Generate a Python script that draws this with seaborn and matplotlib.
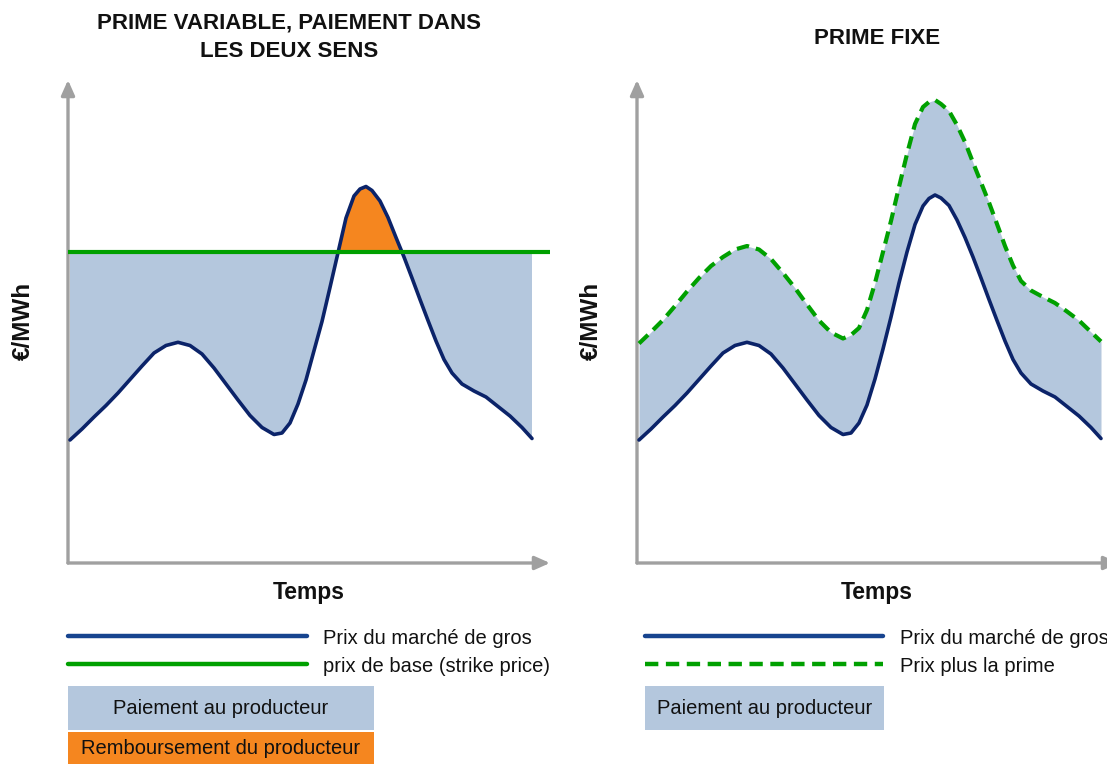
import numpy as np
import matplotlib
matplotlib.use("Agg")
import matplotlib.pyplot as plt
import seaborn as sns
from matplotlib.lines import Line2D
from matplotlib.patches import Rectangle

# ---------------- data ----------------
time = [0, 12, 24, 36, 48, 60, 72, 84, 96, 108,
        120, 132, 144, 156, 168, 180, 192, 204, 212, 220,
        228, 236, 244, 252, 260, 268, 276, 284, 290, 296,
        302, 310, 318, 326, 334, 342, 350, 358, 366, 374,
        382, 392, 404, 416, 428, 440, 452, 462]

market_left = [123, 134, 146, 157.5, 170, 183.5, 197, 210, 217.5, 220.7,
               217.5, 209, 195, 179, 163, 147.5, 135.5, 128.5, 130, 140,
               159, 183, 212.3, 241.5, 275.6, 310.3, 345, 367, 374, 376.5,
               372.5, 362, 345.5, 325.5, 306, 285, 263.5, 242.5, 222, 203.5,
               190, 179, 172, 166, 156.5, 147, 135.5, 124.5]

market_right = [123, 134, 146, 157.5, 170, 183.5, 197, 210, 217.5, 220.7,
                217.5, 209, 195, 179, 163, 147.5, 135.5, 128.5, 130, 140,
                158, 184, 214, 246, 280, 311, 338.5, 357, 364.5, 368,
                365, 357.5, 343, 325.5, 306, 285, 263.5, 242.5, 222, 203.5,
                190, 179, 172, 166, 156.5, 147, 135.5, 124.5]

premium_right = [219.5, 231, 243, 257, 271.5, 285, 297, 306, 313.5, 317,
                 313.5, 304, 290, 275, 258.5, 242.5, 230.5, 224.5, 228, 235,
                 253, 280, 311, 342, 376, 409, 439, 456, 461, 463,
                 459, 452, 438, 421, 400.5, 380.5, 360.5, 339, 317, 297.5,
                 282, 272.5, 266, 260, 251.5, 242.5, 231, 221.5]

strike_price = 311

title_left = "PRIME VARIABLE, PAIEMENT DANS\nLES DEUX SENS"
title_right = "PRIME FIXE"
y_label = "€/MWh"
x_label = "Temps"
legend_left_lines = ["Prix du marché de gros", "prix de base (strike price)"]
legend_right_lines = ["Prix du marché de gros", "Prix plus la prime"]
legend_left_boxes = ["Paiement au producteur", "Remboursement du producteur"]
legend_right_boxes = ["Paiement au producteur"]

# ---------------- style ----------------
sns.set_theme(style="white")
plt.rcParams['font.family'] = ['Liberation Sans', 'DejaVu Sans']

NAVY = '#0b2369'
LEG_BLUE = '#17448f'
GREEN = '#00a000'
FILL_BLUE = '#b4c7dd'
ORANGE = '#f5861f'
GREY = '#a0a0a0'

W, H = 1107, 764
fig = plt.figure(figsize=(W / 100, H / 100), dpi=100)
fig.patch.set_facecolor('white')


def rect(x0, y_top, w, h):
    return [x0 / W, (H - y_top - h) / H, w / W, h / H]


def fx(x):
    return x / W


def fy(y):
    return 1 - y / H


axL = fig.add_axes(rect(68, 80, 482, 483))
axR = fig.add_axes(rect(637, 80, 482, 483))

t = np.array(time, dtype=float)
mL = np.array(market_left, dtype=float)
mR = np.array(market_right, dtype=float)
pR = np.array(premium_right, dtype=float)

for ax in (axL, axR):
    ax.set_xlim(-2, 480)
    ax.set_ylim(0, 483)
    ax.set_facecolor('none')
    for s in ax.spines.values():
        s.set_visible(False)
    ax.set_xticks([])
    ax.set_yticks([])
    arrow = dict(arrowstyle='-|>,head_length=0.45,head_width=0.2', color=GREY,
                 lw=2.4, shrinkA=0, shrinkB=0, mutation_scale=20)
    ax.annotate("", xy=(0.0, 1.0), xytext=(0.0, 0.0), xycoords='axes fraction',
                textcoords='axes fraction', arrowprops=arrow, zorder=1)
    ax.annotate("", xy=(1.0, 0.0), xytext=(0.0, 0.0), xycoords='axes fraction',
                textcoords='axes fraction', arrowprops=arrow, zorder=1)

# ---- left panel ----
axL.fill_between(t, mL, strike_price, where=mL <= strike_price, interpolate=True,
                 color=FILL_BLUE, lw=0, zorder=2)
axL.fill_between(t, mL, strike_price, where=mL >= strike_price, interpolate=True,
                 color=ORANGE, lw=0, zorder=2)
sns.lineplot(x=t, y=mL, ax=axL, color=NAVY, lw=2.6, zorder=4, sort=False,
             estimator=None)
axL.axhline(strike_price, xmin=0, xmax=1, color=GREEN, lw=3, zorder=5)

# ---- right panel ----
axR.fill_between(t, mR, pR, color=FILL_BLUE, lw=0, zorder=2)
sns.lineplot(x=t, y=mR, ax=axR, color=NAVY, lw=2.6, zorder=4, sort=False,
             estimator=None)
sns.lineplot(x=t, y=pR, ax=axR, color=GREEN, lw=3, zorder=5, sort=False,
             estimator=None)
axR.lines[-1].set_linestyle((0, (3.0, 1.7)))

for ax in (axL, axR):
    ax.set_xlabel("")
    ax.set_ylabel("")
    if ax.get_legend():
        ax.get_legend().remove()
    for ln in ax.lines:
        ln.set_solid_joinstyle('round')
        ln.set_dash_joinstyle('round')
        ln.set_solid_capstyle('round')

# ---- titles & labels ----
fig.text(fx(289), fy(37), title_left, ha='center', va='center', fontsize=16,
         fontweight='bold', color='#111111', linespacing=1.45)
fig.text(fx(877), fy(38), title_right, ha='center', va='center', fontsize=16,
         fontweight='bold', color='#111111')
for xc in (23, 591):
    fig.text(fx(xc), fy(321), y_label, ha='center', va='center', rotation=90,
             fontsize=17.5, fontweight='bold', color='#111111')
for xc in (309, 877):
    fig.text(fx(xc), fy(593), x_label, ha='center', va='center', fontsize=16.5,
             fontweight='bold', color='#111111')

# ---- legends ----
LEG_FS = 14.5


def leg_line(x0, x1, y, color, dashed=False):
    ln = Line2D([fx(x0), fx(x1)], [fy(y), fy(y)], transform=fig.transFigure,
                color=color, lw=3.2)
    if dashed:
        ln.set_linestyle((0, (3.0, 1.7)))
    fig.add_artist(ln)


def leg_box(x0, y0, x1, y1, color, label, ty):
    fig.add_artist(Rectangle((fx(x0), fy(y1)), fx(x1) - fx(x0), fy(y0) - fy(y1),
                             transform=fig.transFigure, facecolor=color,
                             edgecolor='none'))
    fig.text(fx((x0 + x1) / 2), fy(ty), label, ha='center',
             va='center', fontsize=LEG_FS, color='#111111')


# left
leg_line(68, 307, 636, LEG_BLUE)
leg_line(68, 307, 664, GREEN)
fig.text(fx(323), fy(638), legend_left_lines[0], ha='left', va='center',
         fontsize=LEG_FS, color='#111111')
fig.text(fx(323), fy(666), legend_left_lines[1], ha='left', va='center',
         fontsize=LEG_FS, color='#111111')
leg_box(68, 686, 374, 730, FILL_BLUE, legend_left_boxes[0], 709)
leg_box(68, 732, 374, 768, ORANGE, legend_left_boxes[1], 749)

# right
leg_line(645, 883, 636, LEG_BLUE)
leg_line(645, 883, 664, GREEN, dashed=True)
fig.text(fx(900), fy(638), legend_right_lines[0], ha='left', va='center',
         fontsize=LEG_FS, color='#111111')
fig.text(fx(900), fy(666), legend_right_lines[1], ha='left', va='center',
         fontsize=LEG_FS, color='#111111')
leg_box(645, 686, 884, 730, FILL_BLUE, legend_right_boxes[0], 709)

fig.savefig("out.png", dpi=100, facecolor='white')
